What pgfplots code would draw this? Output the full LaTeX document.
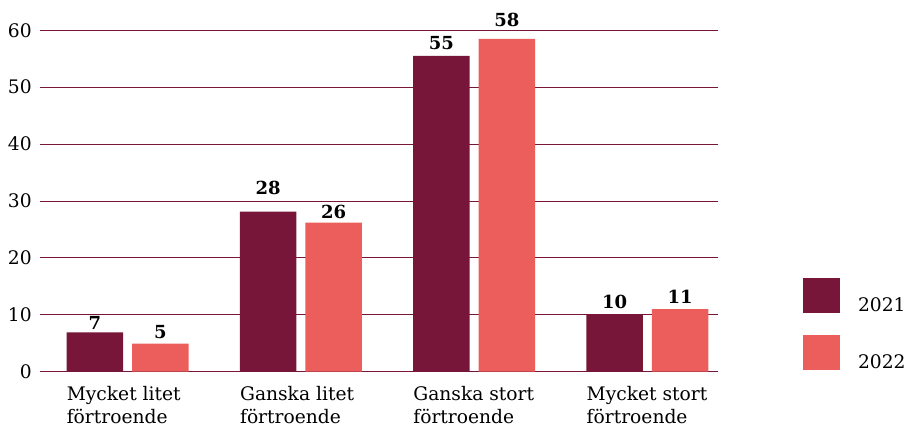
\documentclass[border=0pt]{standalone}
\usepackage{fontspec}
\setmainfont{DejaVu Serif}
\usepackage{pgfplots}
\pgfplotsset{compat=1.18}
\definecolor{cA}{RGB}{119,22,56}
\definecolor{cB}{RGB}{235,94,91}
\pgfplotsset{sqleg/.style={legend image code/.code={\fill[##1,draw=none] (0pt,-5.25pt) rectangle (27.75pt,21pt);}}}
\begin{document}
\begin{tikzpicture}
\begin{axis}[
 name=ax,
 scale only axis,
 width=508.5pt, height=256pt,
 xmin=-0.505, xmax=3.407, ymin=0, ymax=60,
 axis line style={draw=none},
 ytick={0,10,...,60},
 ymajorgrids, grid style={cA, line width=0.6pt},
 major tick length=0pt,
 xtick={0,1,2,3},
 xticklabels={{Mycket litet\\förtroende},{Ganska litet\\förtroende},{Ganska stort\\förtroende},{Mycket stort\\förtroende}},
 xticklabel style={anchor=north west, align=left, inner sep=0pt, xshift=-45.75pt, yshift=-11pt, font=\fontsize{14}{17.25}\selectfont},
 yticklabel style={anchor=east, inner sep=0pt, xshift=-6pt, font=\fontsize{14}{17}\selectfont},
 /pgf/number format/assume math mode=true,
 clip=false,
 legend style={at={(axis description cs:1.1254,0.2745)}, anchor=north west, draw=none, fill=none, inner sep=0pt, outer sep=0pt, row sep=15.75pt, column sep=13.5pt, nodes={inner sep=0pt, font=\fontsize{14}{17}\selectfont}},
 legend cell align=left,
]
\addplot[ybar, bar width=0.326, bar shift=-0.189, fill=cA, draw=none, sqleg] coordinates {(0,6.9) (1,28.1) (2,55.5) (3,10.0)};
\addlegendentry{2021}
\addplot[ybar, bar width=0.326, bar shift=0.189, fill=cB, draw=none, sqleg] coordinates {(0,4.9) (1,26.2) (2,58.5) (3,11.0)};
\addlegendentry{2022}
\addplot[draw=none, forget plot, nodes near coords, point meta=explicit symbolic, nodes near coords style={anchor=south, inner sep=0pt, font=\bfseries\fontsize{13.5}{14}\selectfont}] table[meta=l] {
x y l
-0.189 7.33 7
0.811 31.05 28
1.811 56.5 55
2.811 11.0 10
};
\addplot[draw=none, forget plot, nodes near coords, point meta=explicit symbolic, nodes near coords style={anchor=south, inner sep=0pt, font=\bfseries\fontsize{13.5}{14}\selectfont}] table[meta=l] {
x y l
0.189 5.75 5
1.189 26.84 26
2.189 60.6 58
3.189 11.9 11
};
\end{axis}
\pgfresetboundingbox
\path[use as bounding box] ([xshift=-30pt,yshift=-41.5pt]ax.south west) rectangle ([xshift=142.5pt,yshift=22.7pt]ax.north east);
\end{tikzpicture}
\end{document}
